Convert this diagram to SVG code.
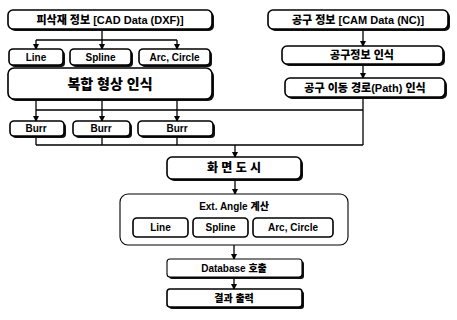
<svg xmlns="http://www.w3.org/2000/svg" width="457" height="320" viewBox="0 0 457 320">
<defs>
<marker id="ah" markerWidth="6" markerHeight="6" refX="5" refY="3" orient="auto" markerUnits="userSpaceOnUse">
<path d="M0,0 L6,3 L0,6 Z" fill="#000"/>
</marker>
</defs>
<style>
.sh{fill:#111;stroke:none}
.bx{fill:#fff;stroke:#000;stroke-width:1.6}
.thin{fill:#fff;stroke:#000;stroke-width:1.1}
.t{font-family:"Liberation Sans","Noto Sans CJK KR",sans-serif;font-weight:900;fill:#000;text-anchor:middle;dominant-baseline:central}
.s11{font-size:11px}
.s10{font-size:10px}
.s12{font-size:12px}
.s14{font-size:14px}
.c{fill:none;stroke:#000;stroke-width:1.3}
</style>
<rect width="457" height="320" fill="#fff"/>
<g id="connectors">
<path class="c" d="M102,29 V40 M36,40 H177"/>
<path class="c" d="M36,40 V49" marker-end="url(#ah)"/>
<path class="c" d="M102,40 V49" marker-end="url(#ah)"/>
<path class="c" d="M177,40 V49" marker-end="url(#ah)"/>
<path class="c" d="M363,29 V46" marker-end="url(#ah)"/>
<path class="c" d="M363,64 V78" marker-end="url(#ah)"/>
<path class="c" d="M363,97 V145 M36,110 H363"/>
<path class="c" d="M36,100 V121" marker-end="url(#ah)"/>
<path class="c" d="M102,100 V121" marker-end="url(#ah)"/>
<path class="c" d="M177,100 V121" marker-end="url(#ah)"/>
<path class="c" d="M36,136 V145 M102,136 V145 M177,136 V145 M36,145 H363"/>
<path class="c" d="M235,145 V157" marker-end="url(#ah)"/>
<path class="c" d="M235,179 V194" marker-end="url(#ah)"/>
<path class="c" d="M234,245 V259" marker-end="url(#ah)"/>
<path class="c" d="M234,277 V289" marker-end="url(#ah)"/>
</g>
<g id="n-cad">
<rect class="sh" x="10" y="12" width="204" height="19" rx="5"/>
<rect class="bx" x="8" y="10" width="204" height="19" rx="5"/>
<text class="t s11" x="110" y="19.5">피삭재 정보  [CAD Data (DXF)]</text>
</g>
<g id="n-cam">
<rect class="sh" x="270" y="12" width="180" height="19" rx="5"/>
<rect class="bx" x="268" y="10" width="180" height="19" rx="5"/>
<text class="t s11" x="358" y="19.5">공구 정보 [CAM Data (NC)]</text>
</g>
<g id="n-line1">
<rect class="sh" x="11" y="51" width="54" height="16" rx="4"/>
<rect class="bx" x="9" y="49" width="54" height="16" rx="4"/>
<text class="t s10" x="36" y="57">Line</text>
</g>
<g id="n-spline1">
<rect class="sh" x="72" y="51" width="61" height="16" rx="4"/>
<rect class="bx" x="70" y="49" width="61" height="16" rx="4"/>
<text class="t s10" x="100.5" y="57">Spline</text>
</g>
<g id="n-arc1">
<rect class="sh" x="141" y="51" width="71" height="16" rx="4"/>
<rect class="bx" x="139" y="49" width="71" height="16" rx="4"/>
<text class="t s10" x="174.5" y="57">Arc, Circle</text>
</g>
<g id="n-complex">
<rect class="sh" x="10" y="70" width="204" height="31" rx="6"/>
<rect class="bx" x="8" y="68" width="204" height="31" rx="6"/>
<text class="t s14" x="110" y="83.5">복합 형상 인식</text>
</g>
<g id="n-toolrec">
<rect class="sh" x="284" y="48" width="161" height="18" rx="5"/>
<rect class="bx" x="282" y="46" width="161" height="18" rx="5"/>
<text class="t s11" x="362" y="55">공구정보 인식</text>
</g>
<g id="n-path">
<rect class="sh" x="287" y="80" width="160" height="19" rx="5"/>
<rect class="bx" x="285" y="78" width="160" height="19" rx="5"/>
<text class="t s11" x="365" y="87.5">공구 이동 경로(Path) 인식</text>
</g>
<g id="n-burr1">
<rect class="sh" x="12" y="123" width="54" height="15" rx="4"/>
<rect class="bx" x="10" y="121" width="54" height="15" rx="4"/>
<text class="t s10" x="36" y="128.5">Burr</text>
</g>
<g id="n-burr2">
<rect class="sh" x="75" y="123" width="57" height="15" rx="4"/>
<rect class="bx" x="73" y="121" width="57" height="15" rx="4"/>
<text class="t s10" x="101" y="128.5">Burr</text>
</g>
<g id="n-burr3">
<rect class="sh" x="140" y="123" width="75" height="15" rx="4"/>
<rect class="bx" x="138" y="121" width="75" height="15" rx="4"/>
<text class="t s10" x="177" y="128.5">Burr</text>
</g>
<g id="n-display">
<rect class="sh" x="169" y="159" width="134" height="22" rx="5"/>
<rect class="bx" x="167" y="157" width="134" height="22" rx="5"/>
<text class="t s12" x="234" y="168">화 면 도 시</text>
</g>
<g id="n-ext">
<rect class="thin" x="120" y="194" width="228" height="51" rx="8"/>
<text class="t s10" x="234" y="206">Ext. Angle 계산</text>
</g>
<g id="n-line2">
<rect class="bx" x="133" y="218" width="55" height="19" rx="4"/>
<text class="t s10" x="160.5" y="227.5">Line</text>
</g>
<g id="n-spline2">
<rect class="bx" x="193" y="218" width="55" height="19" rx="4"/>
<text class="t s10" x="220.5" y="227.5">Spline</text>
</g>
<g id="n-arc2">
<rect class="bx" x="253" y="218" width="80" height="19" rx="4"/>
<text class="t s10" x="293" y="227.5">Arc, Circle</text>
</g>
<g id="n-db">
<rect class="sh" x="169" y="261" width="135" height="18" rx="3"/>
<rect class="thin" x="167" y="259" width="135" height="18" rx="3"/>
<text class="t s10" x="234" y="268">Database 호출</text>
</g>
<g id="n-result">
<rect class="sh" x="169" y="291" width="135" height="18" rx="3"/>
<rect class="bx" x="167" y="289" width="135" height="18" rx="3"/>
<text class="t s10" x="234" y="298">결과 출력</text>
</g>
</svg>
